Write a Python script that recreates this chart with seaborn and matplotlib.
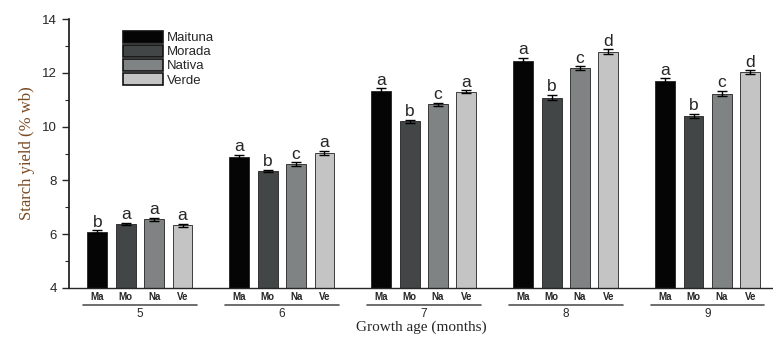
import numpy as np
import pandas as pd
import matplotlib
matplotlib.use("Agg")
import matplotlib.pyplot as plt
import matplotlib.transforms as mtransforms
import seaborn as sns

sns.set_style("ticks")
plt.rcParams["font.family"] = ["Liberation Sans", "DejaVu Sans"]

months = ["5", "6", "7", "8", "9"]
varieties = ["Maituna", "Morada", "Nativa", "Verde"]
short = ["Ma", "Mo", "Na", "Ve"]
colors = ["#050505", "#424646", "#7f8383", "#c4c4c4"]

maituna = [6.10, 8.88, 11.33, 12.45, 11.70]
morada = [6.38, 8.35, 10.20, 11.08, 10.40]
nativa = [6.55, 8.60, 10.83, 12.17, 11.23]
verde = [6.33, 9.03, 11.30, 12.79, 12.02]

maituna_err = [0.05, 0.07, 0.10, 0.10, 0.10]
morada_err = [0.05, 0.05, 0.06, 0.10, 0.08]
nativa_err = [0.06, 0.08, 0.05, 0.08, 0.10]
verde_err = [0.06, 0.08, 0.05, 0.09, 0.08]

letters = [
    ["b", "a", "a", "a"],
    ["a", "b", "c", "a"],
    ["a", "b", "c", "a"],
    ["a", "b", "c", "d"],
    ["a", "b", "c", "d"],
]

series = [maituna, morada, nativa, verde]
errors = [maituna_err, morada_err, nativa_err, verde_err]
rows = []
for v, vals, errs in zip(varieties, series, errors):
    for m, val, e in zip(months, vals, errs):
        rows.append({"month": m, "variety": v, "value": val, "err": e})
df = pd.DataFrame(rows)

fig = plt.figure(figsize=(7.73, 3.38), dpi=100)
ax = fig.add_axes([69 / 773, 50 / 338, 1 - 69 / 773, 269 / 338])

sns.barplot(data=df, x="month", y="value", hue="variety", order=months,
            hue_order=varieties, palette=colors, errorbar=None, gap=0.3,
            edgecolor="#222222", linewidth=0.6, ax=ax)

ax.set_ylim(4, 14)
ax.set_xlim(-0.5, 4.46)

# error bars, significance letters and sub labels from bar patches
centers = []
for hi, (v, vals, errs) in enumerate(zip(varieties, series, errors)):
    container = ax.containers[hi]
    for mi, bar in enumerate(container):
        xc = bar.get_x() + bar.get_width() / 2
        h = bar.get_height()
        ax.errorbar(xc, h, yerr=errs[mi], fmt="none", ecolor="black",
                    elinewidth=1.0, capsize=3.5, capthick=1.0)
        ax.text(xc, h + errs[mi] + 0.02, letters[mi][hi], ha="center",
                va="bottom", fontsize=12.5)
        centers.append((xc, short[hi]))

centers.sort()
ax.set_xticks([c[0] for c in centers])
ax.set_xticklabels([c[1] for c in centers], fontsize=7, fontweight="bold")
ax.tick_params(axis="x", length=0, pad=3)

trans = mtransforms.blended_transform_factory(ax.transData, ax.transAxes)
for i, m in enumerate(months):
    ax.plot([i - 0.4, i + 0.4], [-0.063, -0.063], color="#555555", lw=1.2,
            transform=trans, clip_on=False)
    ax.text(i, -0.075, m, ha="center", va="top", fontsize=8.5, transform=trans)

ax.set_yticks([4, 6, 8, 10, 12, 14])
ax.set_yticks(np.arange(4, 14, 1), minor=True)
ax.tick_params(axis="y", which="major", length=5, width=1.0, labelsize=9.5,
               direction="out")
ax.tick_params(axis="y", which="minor", length=3, width=0.8, direction="out")
ax.set_xlabel("Growth age (months)", family="Liberation Serif", fontsize=11)
ax.xaxis.set_label_coords(0.5, -0.122)
ax.set_ylabel("Starch yield (% wb)", family="Liberation Serif", fontsize=12,
              color="#7a4a22", labelpad=5)

sns.despine(ax=ax, top=True, right=True)
ax.spines["left"].set_linewidth(1.3)
ax.spines["bottom"].set_linewidth(1.0)

leg = ax.legend(loc="upper left", bbox_to_anchor=(0.06, 1.0), frameon=False,
                fontsize=9.5, handlelength=3.0, handleheight=1.0,
                labelspacing=0.05, handletextpad=0.3, borderaxespad=0.5)
for p in leg.get_patches():
    p.set_edgecolor("#111111")
    p.set_linewidth(1.2)

fig.savefig("out.png", dpi=100)
